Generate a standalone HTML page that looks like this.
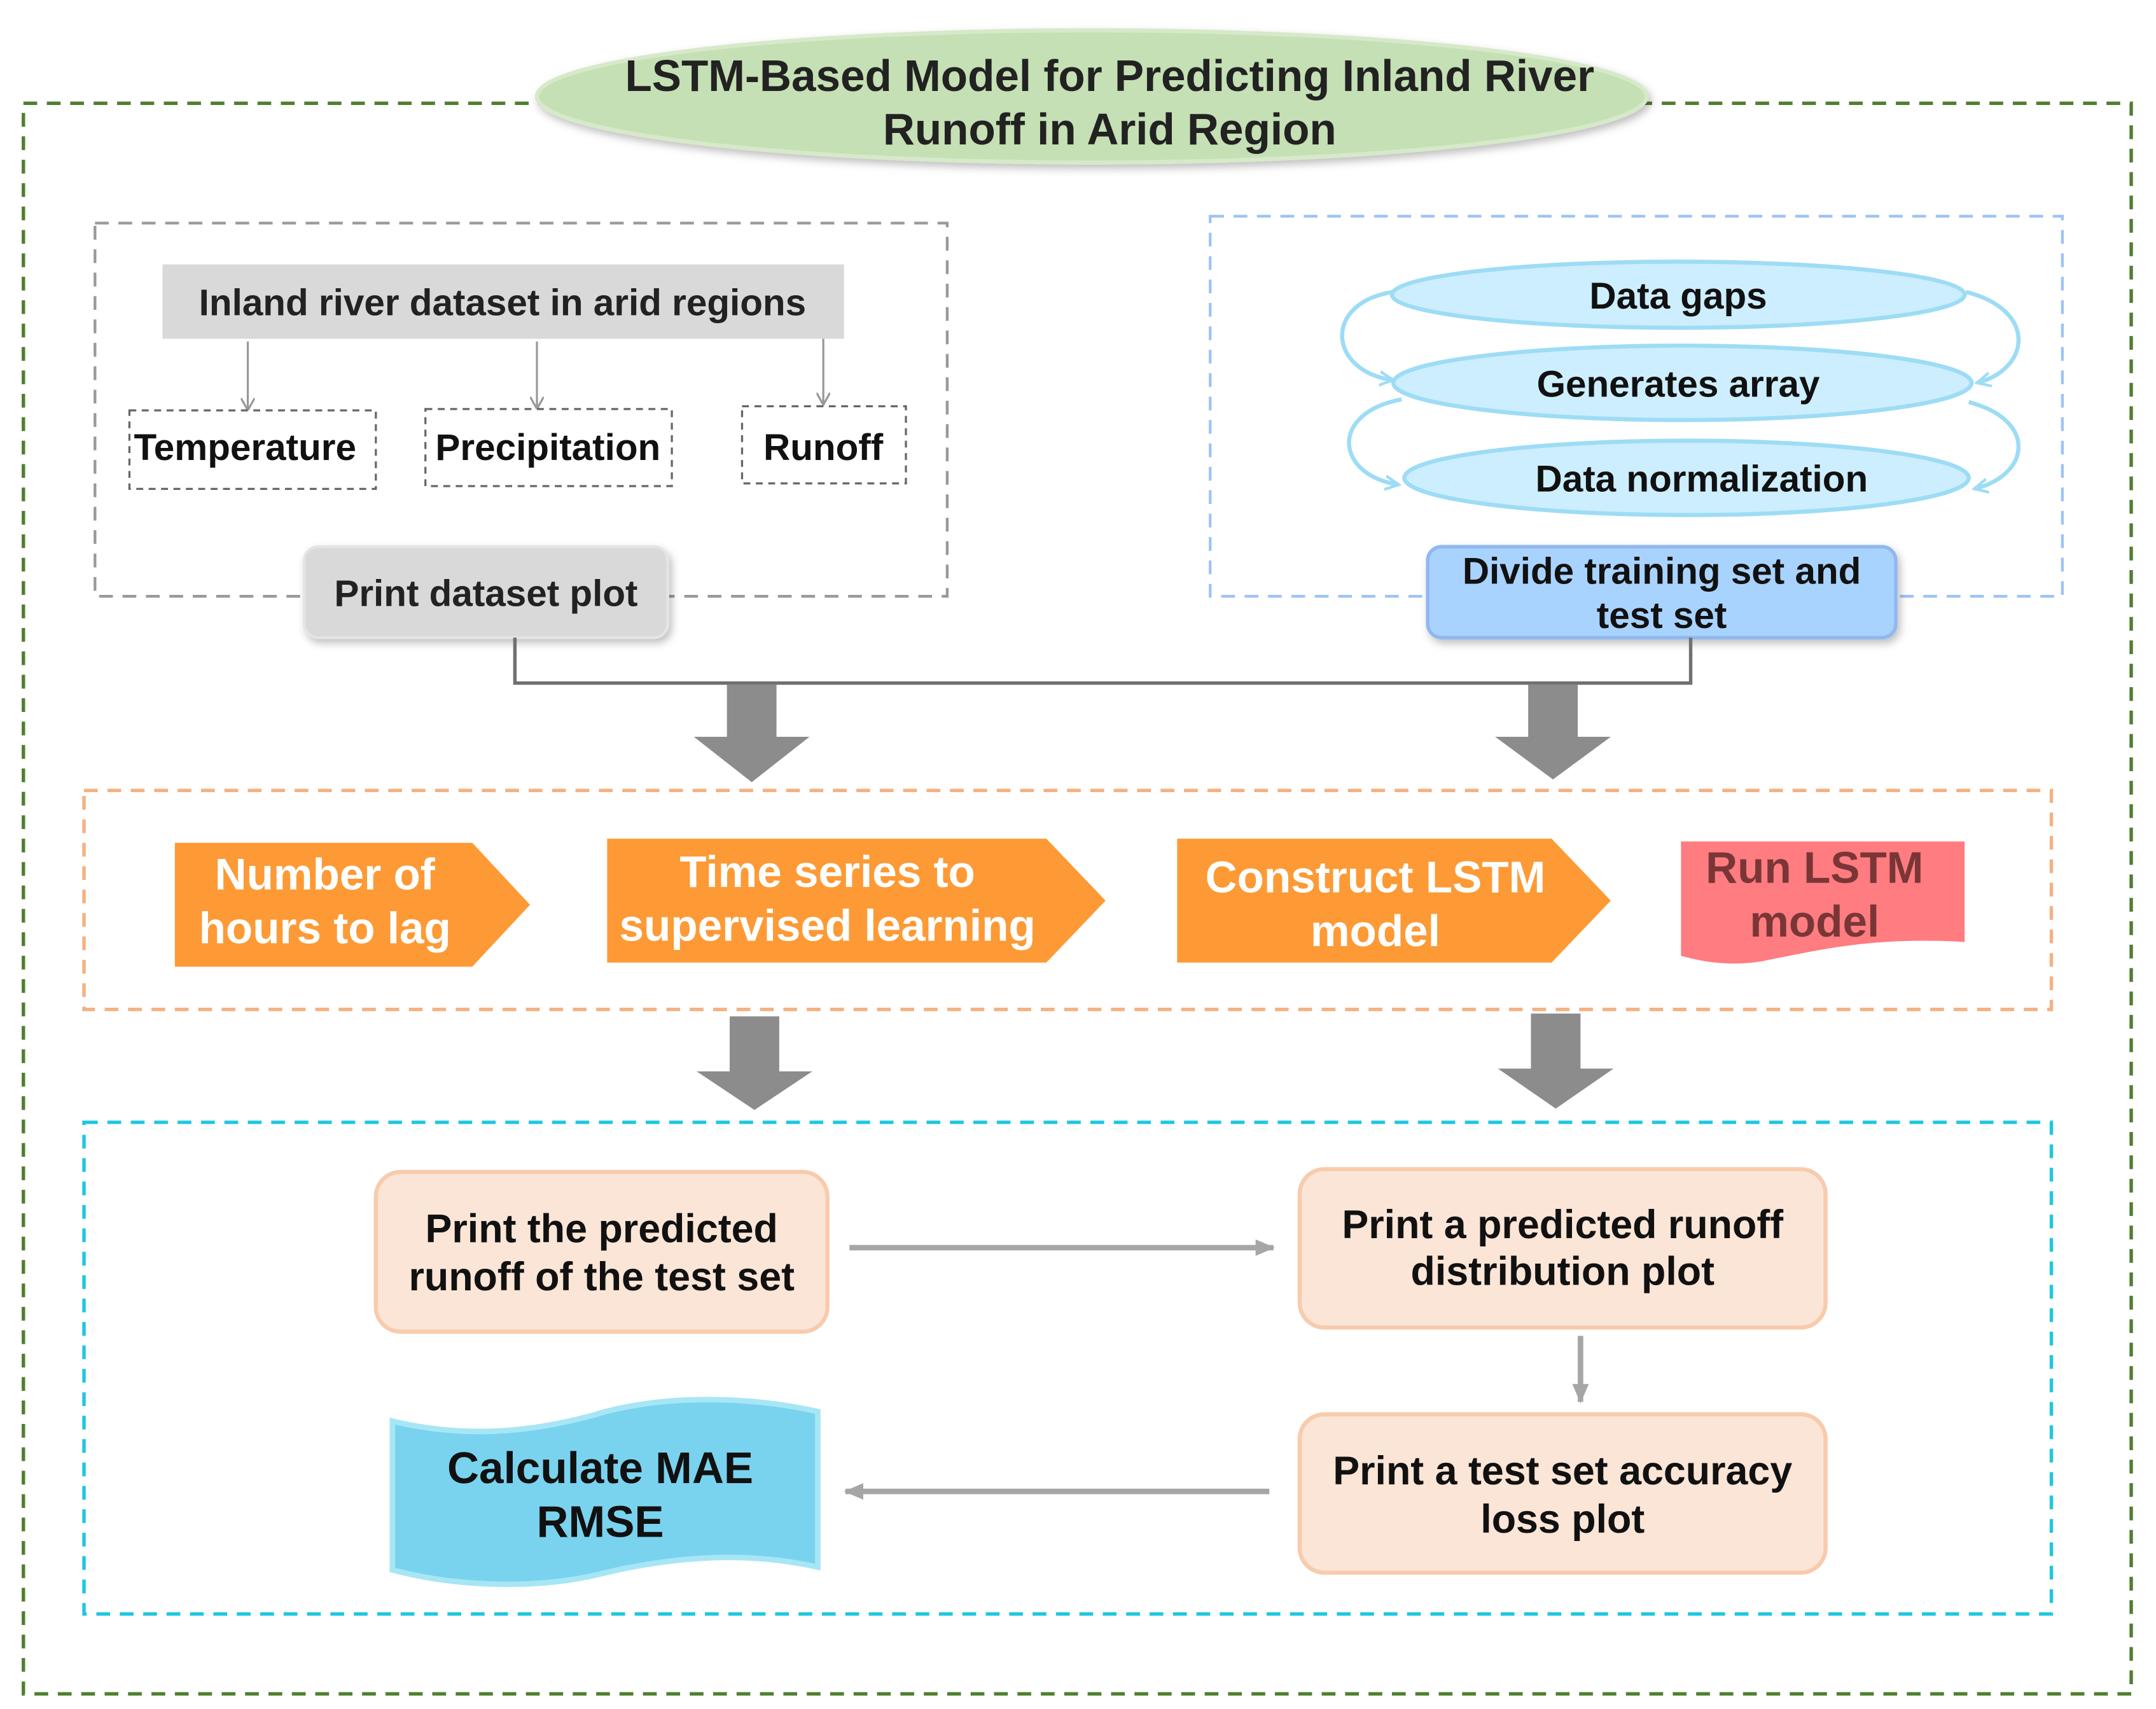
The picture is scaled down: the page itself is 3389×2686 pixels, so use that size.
<!DOCTYPE html>
<html><head><meta charset="utf-8"><style>
html,body{margin:0;padding:0;background:#fff}
svg{display:block}
text{font-family:"Liberation Sans",sans-serif;font-weight:bold;text-anchor:middle}
</style></head><body>
<svg width="3389" height="2686" viewBox="0 0 1566 1241" preserveAspectRatio="none" xmlns="http://www.w3.org/2000/svg">
<defs>
<filter id="sh" x="-10%" y="-10%" width="130%" height="140%"><feDropShadow dx="2" dy="3" stdDeviation="3" flood-color="#000" flood-opacity="0.25"/></filter>
<marker id="ma" markerWidth="10" markerHeight="10" refX="8" refY="5" orient="auto" markerUnits="userSpaceOnUse"><path d="M0,0 L9,5 L0,10" fill="none" stroke="#999" stroke-width="1.5"/></marker>
<marker id="mb" markerWidth="14" markerHeight="12" refX="13" refY="6" orient="auto" markerUnits="userSpaceOnUse"><path d="M0,0 L14,6 L0,12 Z" fill="#a6a6a6"/></marker>
<marker id="mc" markerWidth="12" markerHeight="12" refX="10" refY="6" orient="auto" markerUnits="userSpaceOnUse"><path d="M0,1 L10,6 L0,11" fill="none" stroke="#9ddcf5" stroke-width="2"/></marker>
</defs>
<rect width="1566" height="1241" fill="#fff"/>
<rect x="17" y="75" width="1531" height="1155" fill="none" stroke="#4f7f2f" stroke-width="2.5" stroke-dasharray="10,7"/>
<ellipse cx="793" cy="70" rx="403" ry="48" fill="#c5e0b4" stroke="#d6e9c9" stroke-width="3" filter="url(#sh)"/>
<text x="806" y="66" font-size="32" fill="#222">LSTM-Based Model for Predicting Inland River</text>
<text x="806" y="105" font-size="32" fill="#222">Runoff in Arid Region</text>

<rect x="69" y="162" width="619" height="271" fill="none" stroke="#999" stroke-width="2" stroke-dasharray="10,7"/>
<rect x="118" y="192" width="495" height="54" fill="#d9d9d9"/>
<text x="365" y="229" font-size="27" fill="#222">Inland river dataset in arid regions</text>
<line x1="180" y1="248" x2="180" y2="297" stroke="#999" stroke-width="1.5" marker-end="url(#ma)"/>
<line x1="390" y1="248" x2="390" y2="296" stroke="#999" stroke-width="1.5" marker-end="url(#ma)"/>
<line x1="598" y1="246" x2="598" y2="293" stroke="#999" stroke-width="1.5" marker-end="url(#ma)"/>
<rect x="94" y="298" width="179" height="57" fill="#fff" stroke="#666" stroke-width="1.5" stroke-dasharray="5,4"/>
<text x="178" y="334" font-size="27" fill="#111">Temperature</text>
<rect x="309" y="297" width="179" height="56" fill="#fff" stroke="#666" stroke-width="1.5" stroke-dasharray="5,4"/>
<text x="398" y="334" font-size="27" fill="#111">Precipitation</text>
<rect x="539" y="295" width="119" height="56" fill="#fff" stroke="#666" stroke-width="1.5" stroke-dasharray="5,4"/>
<text x="598" y="334" font-size="27" fill="#111">Runoff</text>
<rect x="221" y="397" width="264" height="66" rx="10" fill="#d9d9d9" stroke="#e4e4e4" stroke-width="2" filter="url(#sh)"/>
<text x="353" y="440" font-size="27" fill="#222">Print dataset plot</text>

<rect x="879" y="157" width="619" height="276" fill="none" stroke="#9dc3f7" stroke-width="2" stroke-dasharray="10,7"/>
<path d="M1012,212 C960,220 965,270 1012,276" fill="none" stroke="#9ddcf5" stroke-width="3" marker-end="url(#mc)"/>
<path d="M1018,290 C965,300 970,345 1016,352" fill="none" stroke="#9ddcf5" stroke-width="3" marker-end="url(#mc)"/>
<path d="M1428,212 C1480,225 1475,268 1436,278" fill="none" stroke="#9ddcf5" stroke-width="3" marker-end="url(#mc)"/>
<path d="M1430,292 C1480,305 1475,345 1434,355" fill="none" stroke="#9ddcf5" stroke-width="3" marker-end="url(#mc)"/>
<ellipse cx="1219" cy="214" rx="208" ry="24" fill="#cdeefe" stroke="#9ddcf5" stroke-width="3"/>
<text x="1219" y="224" font-size="27" fill="#111">Data gaps</text>
<ellipse cx="1222" cy="278" rx="210" ry="27" fill="#cdeefe" stroke="#9ddcf5" stroke-width="3"/>
<text x="1219" y="288" font-size="27" fill="#111">Generates array</text>
<ellipse cx="1225" cy="347" rx="205" ry="27" fill="#cdeefe" stroke="#9ddcf5" stroke-width="3"/>
<text x="1236" y="357" font-size="27" fill="#111">Data normalization</text>
<rect x="1037" y="397" width="340" height="66" rx="10" fill="#a9d3ff" stroke="#8fb8f0" stroke-width="2.5" filter="url(#sh)"/>
<text x="1207" y="424" font-size="27" fill="#111">Divide training set and</text>
<text x="1207" y="456" font-size="27" fill="#111">test set</text>

<polyline points="374,463 374,496 1228,496 1228,463" fill="none" stroke="#707070" stroke-width="2.5"/>
<path d="M528,497 H564 V535 H588 L546,568 L504,535 H528 Z" fill="#8c8c8c"/>
<path d="M1110,497 H1146 V535 H1170 L1128,566 L1086,535 H1110 Z" fill="#8c8c8c"/>

<rect x="61" y="574" width="1429" height="159" fill="none" stroke="#f4b183" stroke-width="2.5" stroke-dasharray="10,7"/>
<path d="M127,612 H343 L385,657 L343,702 H127 Z" fill="#fd9a35"/>
<text x="236" y="646" font-size="32" fill="#fff">Number of</text>
<text x="236" y="685" font-size="32" fill="#fff">hours to lag</text>
<path d="M441,609 H760 L803,654 L760,699 H441 Z" fill="#fd9a35"/>
<text x="601" y="644" font-size="32" fill="#fff">Time series to</text>
<text x="601" y="683" font-size="32" fill="#fff">supervised learning</text>
<path d="M855,609 H1127 L1170,654 L1127,699 H855 Z" fill="#fd9a35"/>
<text x="999" y="648" font-size="32" fill="#fff">Construct LSTM</text>
<text x="999" y="687" font-size="32" fill="#fff">model</text>
<path d="M1221,611 H1427 V684 C1360,680 1320,690 1280,698 C1255,702 1235,698 1221,694 Z" fill="#ff7c80"/>
<text x="1318" y="641" font-size="32" fill="#7a3636">Run LSTM</text>
<text x="1318" y="680" font-size="32" fill="#7a3636">model</text>

<path d="M530,738 H566 V778 H590 L548,806 L506,778 H530 Z" fill="#8c8c8c"/>
<path d="M1112,736 H1148 V776 H1172 L1130,805 L1088,776 H1112 Z" fill="#8c8c8c"/>

<rect x="61" y="815" width="1429" height="357" fill="none" stroke="#1fc7e0" stroke-width="2.5" stroke-dasharray="10,7"/>
<rect x="273" y="851" width="328" height="116" rx="18" fill="#fbe5d6" stroke="#f8cbad" stroke-width="3"/>
<text x="437" y="902" font-size="29" fill="#111">Print the predicted</text>
<text x="437" y="937" font-size="29" fill="#111">runoff of the test set</text>
<rect x="944" y="849" width="382" height="115" rx="18" fill="#fbe5d6" stroke="#f8cbad" stroke-width="3"/>
<text x="1135" y="899" font-size="29" fill="#111">Print a predicted runoff</text>
<text x="1135" y="933" font-size="29" fill="#111">distribution plot</text>
<rect x="944" y="1027" width="382" height="115" rx="18" fill="#fbe5d6" stroke="#f8cbad" stroke-width="3"/>
<text x="1135" y="1078" font-size="29" fill="#111">Print a test set accuracy</text>
<text x="1135" y="1113" font-size="29" fill="#111">loss plot</text>
<line x1="617" y1="906" x2="925" y2="906" stroke="#a6a6a6" stroke-width="4" marker-end="url(#mb)"/>
<line x1="1148" y1="970" x2="1148" y2="1018" stroke="#a6a6a6" stroke-width="4" marker-end="url(#mb)"/>
<line x1="922" y1="1083" x2="614" y2="1083" stroke="#a6a6a6" stroke-width="4" marker-end="url(#mb)"/>
<path d="M285,1032 C340,1045 390,1040 440,1025 C490,1012 550,1015 594,1025 V1138 C550,1128 500,1128 440,1142 C390,1155 330,1152 285,1140 Z" fill="#7ad3ee" stroke="#a7e6f5" stroke-width="4"/>
<text x="436" y="1077" font-size="32" fill="#111">Calculate MAE</text>
<text x="436" y="1116" font-size="32" fill="#111">RMSE</text>
</svg>
</body></html>
